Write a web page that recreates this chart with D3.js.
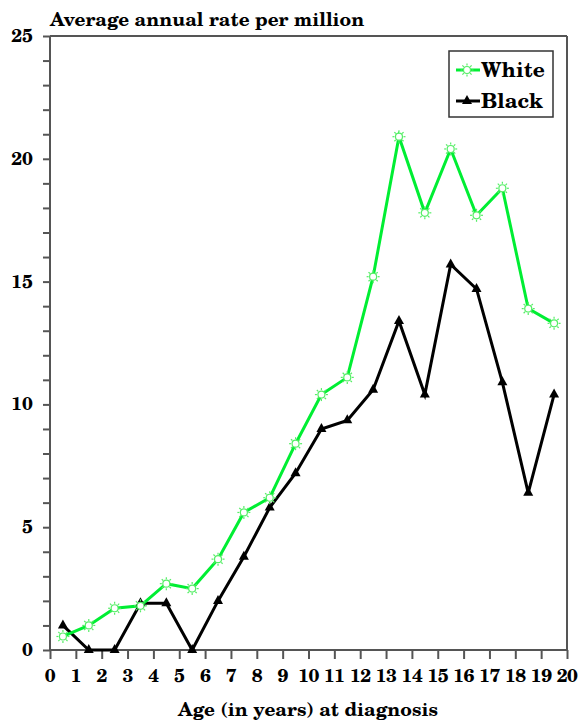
<!DOCTYPE html>
<html><head><meta charset="utf-8">
<script src="https://cdn.jsdelivr.net/npm/d3@7"></script>
</head><body style="margin:0;background:#fff"><div id="chart"></div>
<script>
const ages = [0.5,1.5,2.5,3.5,4.5,5.5,6.5,7.5,8.5,9.5,10.5,11.5,12.5,13.5,14.5,15.5,16.5,17.5,18.5,19.5];
const white = [0.55,1.0,1.7,1.8,2.7,2.5,3.7,5.6,6.2,8.4,10.4,11.1,15.2,20.9,17.8,20.4,17.7,18.8,13.9,13.3];
const black = [1.0,0,0,1.9,1.9,0,2.0,3.8,5.8,7.2,9.0,9.35,10.6,13.4,10.4,15.7,14.7,10.9,6.4,10.4];
const xTicks = d3.range(0,21);
const yLabels = [0,5,10,15,20,25];
const yMinor = d3.range(0,26);
const seriesNames = ["White","Black"];

const FONT='"TeX Gyre Schola","Century Schoolbook L","DejaVu Serif",serif';
const W=579,H=723;
const L=50,R=567,T=36,B=650;
const svg=d3.select("#chart").append("svg").attr("width",W).attr("height",H).style("display","block");
const x=d3.scaleLinear().domain([0,20]).range([L,R]);
const y=d3.scaleLinear().domain([0,25]).range([B,T]);
const axisCol="#555";
function txt(sel){return sel.style("font-family",FONT).style("font-weight","bold").attr("fill","#000");}

svg.append("line").attr("x1",L).attr("x2",R).attr("y1",T).attr("y2",T).attr("stroke",axisCol).attr("stroke-width",2);
svg.append("line").attr("x1",R).attr("x2",R).attr("y1",T).attr("y2",B).attr("stroke",axisCol).attr("stroke-width",2);

const ya=svg.append("g").attr("transform",`translate(${L},0)`).call(d3.axisLeft(y).tickValues(yMinor).tickSize(7).tickFormat(""));
ya.selectAll("path,line").attr("stroke",axisCol).attr("stroke-width",2);
ya.select(".domain").attr("d",`M0,${T}V${B}`);
txt(svg.selectAll(".ylab").data(yLabels).enter().append("text").attr("x",33).attr("y",d=>y(d)+6).attr("text-anchor","end").attr("font-size",19).text(d=>d));

const xa=svg.append("g").attr("transform",`translate(0,${B})`).call(d3.axisBottom(x).tickValues(xTicks).tickSize(9).tickFormat(""));
xa.selectAll("path,line").attr("stroke",axisCol).attr("stroke-width",2);
xa.select(".domain").attr("d",`M${L},0H${R}`);
txt(svg.selectAll(".xlab").data(xTicks).enter().append("text").attr("x",d=>x(d)).attr("y",682).attr("text-anchor","middle").attr("font-size",19).attr("letter-spacing",-0.6).text(d=>d));

txt(svg.append("text").attr("x",308).attr("y",716).attr("text-anchor","middle").attr("font-size",19).text("Age (in years) at diagnosis"));
txt(svg.append("text").attr("x",50).attr("y",26).attr("font-size",19).text("Average annual rate per million"));

const line=d3.line().x((d,i)=>x(ages[i])).y(d=>y(d));
const green="#00ee33", lightG="#55ee66";
svg.append("path").datum(black).attr("d",line).attr("fill","none").attr("stroke","#000").attr("stroke-width",3);
svg.append("path").datum(white).attr("d",line).attr("fill","none").attr("stroke",green).attr("stroke-width",3);

function sun(g){
  g.append("circle").attr("r",3.5).attr("fill","#fff").attr("stroke",lightG).attr("stroke-width",1.2);
  for(let k=0;k<8;k++){const a=k*Math.PI/4;
    g.append("line").attr("x1",4.5*Math.cos(a)).attr("y1",4.5*Math.sin(a)).attr("x2",6.5*Math.cos(a)).attr("y2",6.5*Math.sin(a)).attr("stroke",lightG).attr("stroke-width",1.2);}
}
const tri="M0,-6L5,3L-5,3Z";
svg.selectAll(".bm").data(black).enter().append("path").attr("d",tri).attr("transform",(d,i)=>`translate(${x(ages[i])},${y(d)})`).attr("fill","#000");
svg.selectAll(".wm").data(white).enter().append("g").attr("transform",(d,i)=>`translate(${x(ages[i])},${y(d)})`).each(function(){sun(d3.select(this));});

const lg=svg.append("g");
lg.append("rect").attr("x",449).attr("y",51).attr("width",104).attr("height",66).attr("fill","#fff").attr("stroke","#333").attr("stroke-width",1.5);
lg.append("line").attr("x1",456).attr("x2",480).attr("y1",70).attr("y2",70).attr("stroke",green).attr("stroke-width",3);
const sg=lg.append("g").attr("transform","translate(467,70)");sun(sg);
txt(lg.append("text").attr("x",481).attr("y",77).attr("font-size",21).text(seriesNames[0]));
lg.append("line").attr("x1",456).attr("x2",480).attr("y1",101).attr("y2",101).attr("stroke","#000").attr("stroke-width",3);
lg.append("path").attr("d",tri).attr("transform","translate(467,101)").attr("fill","#000");
txt(lg.append("text").attr("x",481).attr("y",108).attr("font-size",21).text(seriesNames[1]));
</script></body></html>
